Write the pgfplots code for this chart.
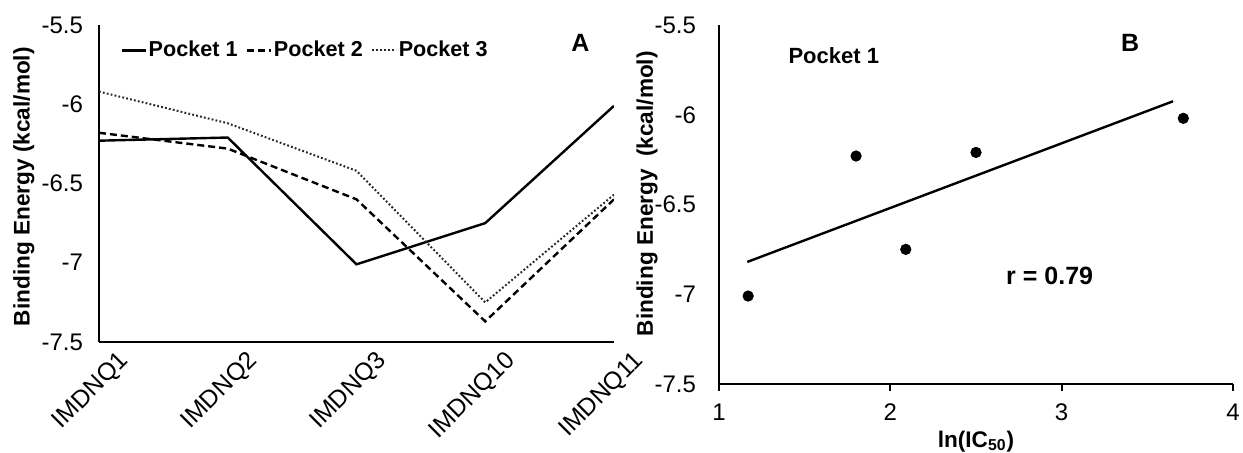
\documentclass[border=0pt]{standalone}
\usepackage{fontspec}
\setmainfont{Liberation Sans}
\usepackage{pgfplots}
\pgfplotsset{compat=1.18}
\begin{document}
\begin{tikzpicture}
\path[use as bounding box] (0,0) rectangle (621.5pt,226.5pt);
\pgfplotsset{
  myaxis/.style={
    scale only axis,
    axis lines*=left,
    axis line style={-, line width=1.3pt, black},
    tick label style={font=\fontsize{12}{14}\selectfont},
    /pgf/number format/assume math mode=true,
    ymin=-7.5, ymax=-5.5,
    ytick={-7.5,-7,-6.5,-6,-5.5},
    yticklabel style={xshift=-4.5pt},
    ytick style={draw=none},
  }
}
\begin{axis}[myaxis,
  at={(49.5pt,55.5pt)}, anchor=south west,
  width=257.5pt, height=158.5pt,
  xmin=0, xmax=4,
  xtick={0,1,2,3,4},
  xticklabels={IMDNQ1,IMDNQ2,IMDNQ3,IMDNQ10,IMDNQ11},
  xtick style={draw=none},
  xticklabel style={rotate=45, anchor=north east, inner sep=1pt, yshift=-8pt, xshift=5pt, font=\fontsize{12.3}{14}\selectfont},
  ylabel={Binding Energy (kcal/mol)},
  every axis y label/.style={at={(axis description cs:-0.146,0.49)}, rotate=90, anchor=center, font=\bfseries\fontsize{11.3}{13}\selectfont},
  legend columns=3,
  legend style={draw=none, fill=none, at={(axis description cs:0.40,0.92)}, anchor=center,
    font=\bfseries\fontsize{10.8}{12}\selectfont,
    /tikz/every even column/.append style={column sep=3pt},
    nodes={inner sep=1pt}},
  legend image code/.code={\draw[#1] (0pt,0pt) -- (12pt,0pt);},
]
\addplot[black, line width=1.2pt] coordinates {(0,-6.23) (1,-6.21) (2,-7.01) (3,-6.75) (4,-6.01)};
\addlegendentry{Pocket 1}
\addplot[black, line width=1.2pt, dash pattern=on 3.5pt off 2pt] coordinates {(0,-6.18) (1,-6.28) (2,-6.60) (3,-7.37) (4,-6.60)};
\addlegendentry{Pocket 2}
\addplot[black!85, line width=1pt, dash pattern=on 0.9pt off 1.1pt] coordinates {(0,-5.92) (1,-6.12) (2,-6.42) (3,-7.25) (4,-6.57)};
\addlegendentry{Pocket 3}
\node[font=\bfseries\fontsize{12.5}{14}\selectfont] at (axis cs:3.74,-5.61) {A};
\end{axis}

\begin{axis}[myaxis,
  at={(359.5pt,34.5pt)}, anchor=south west,
  width=257pt, height=179.5pt,
  xmin=1, xmax=4,
  xtick={1,2,3,4},
  xtick style={black, line width=1.1pt},
  major tick length=3.5pt,
  tick align=outside,
  xticklabel style={yshift=-3pt},
  xlabel={ln(IC\textsubscript{50})},
  every axis x label/.style={at={(axis description cs:0.5,-0.16)}, anchor=center, font=\bfseries\fontsize{11.3}{13}\selectfont},
  ylabel={Binding Energy\ \ (kcal/mol)},
  every axis y label/.style={at={(axis description cs:-0.14,0.53)}, rotate=90, anchor=center, font=\bfseries\fontsize{11.3}{13}\selectfont},
]
\addplot[only marks, mark=*, mark size=2.6pt, black] coordinates {(1.17,-7.01) (1.80,-6.23) (2.09,-6.75) (2.50,-6.21) (3.71,-6.02)};
\addplot[black, line width=1.2pt] coordinates {(1.165,-6.82) (3.65,-5.925)};
\node[font=\bfseries\fontsize{11}{13}\selectfont] at (axis cs:1.67,-5.67) {Pocket 1};
\node[font=\bfseries\fontsize{12.5}{14}\selectfont] at (axis cs:3.40,-5.60) {B};
\node[font=\bfseries\fontsize{12.5}{14}\selectfont] at (axis cs:2.93,-6.90) {r = 0.79};
\end{axis}
\end{tikzpicture}
\end{document}
